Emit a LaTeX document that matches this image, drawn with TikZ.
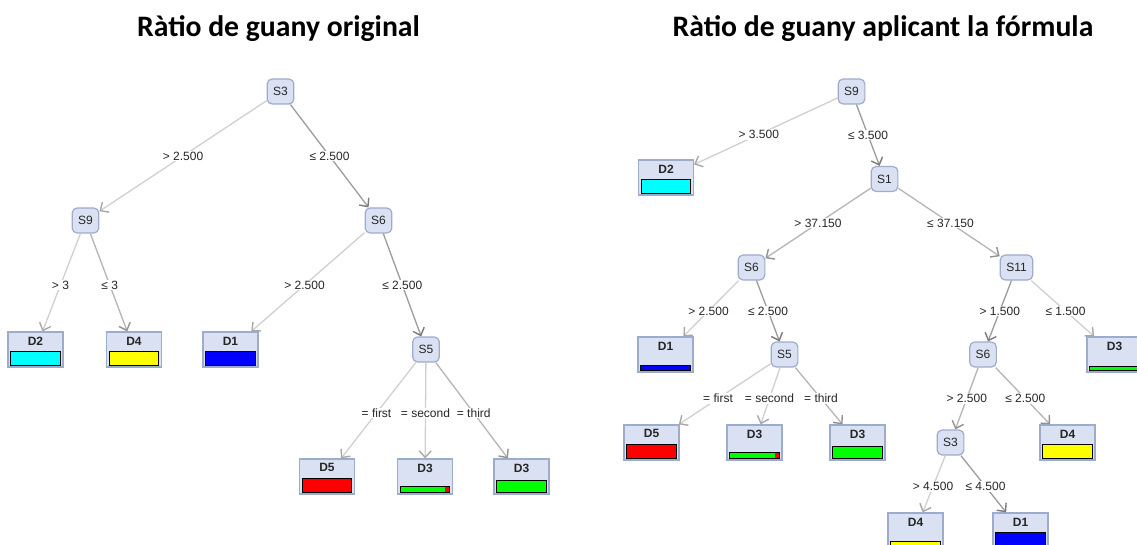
\documentclass[tikz,border=0pt]{standalone}
\usepackage{fontspec}
\setmainfont{Liberation Sans}
\newfontfamily\titlefont{Carlito}
\usetikzlibrary{arrows.meta,calc}

\definecolor{nodefill}{HTML}{DAE1F2}
\definecolor{nodedraw}{HTML}{9EACCC}
\definecolor{edgeL}{HTML}{D0D0D0}
\definecolor{edgeM}{HTML}{B5B5B5}
\definecolor{edgeD}{HTML}{9C9C9C}
\definecolor{tipL}{HTML}{A8A8A8}
\definecolor{tipM}{HTML}{929292}
\definecolor{tipD}{HTML}{7A7A7A}
\definecolor{txt}{HTML}{262626}
\definecolor{barcyan}{HTML}{00FFFF}
\definecolor{baryellow}{HTML}{FFFF00}
\definecolor{barblue}{HTML}{0000FF}
\definecolor{barred}{HTML}{FF0000}
\definecolor{bargreen}{HTML}{00FF00}

\tikzset{
  split/.style={draw=nodedraw, fill=nodefill, rounded corners=5pt, line width=1.2pt,
    minimum height=25pt, minimum width=26pt, inner xsep=6pt, inner ysep=2pt,
    font=\fontsize{12}{13}\selectfont, text=txt},
  leafbox/.style={draw=nodedraw, fill=nodefill, line width=1.2pt,
    minimum width=55pt, minimum height=35pt, inner sep=0pt},
  leaflabel/.style={font=\bfseries\fontsize{12}{13}\selectfont, text=txt, inner sep=0pt},
  elabel/.style={fill=white, inner xsep=1.5pt, inner ysep=1pt,
    font=\fontsize{12}{13}\selectfont, text=txt},
  barline/.style={draw=black, line width=0.9pt},
  light/.style={draw=edgeL, line width=1.3pt, -{Straight Barb[length=6.5pt,width=12pt,line width=1.4pt,color=tipL]}},
  medium/.style={draw=edgeM, line width=1.3pt, -{Straight Barb[length=6.5pt,width=12pt,line width=1.4pt,color=tipM]}},
  dark/.style={draw=edgeD, line width=1.3pt, -{Straight Barb[length=6.5pt,width=12pt,line width=1.4pt,color=tipD]}},
  title/.style={font=\titlefont\bfseries\fontsize{29.7}{31}\selectfont, anchor=base, inner sep=0pt}
}

% leaf: name, position, class label, bar colour, bar height
\newcommand\leafnode[5]{%
  \node[leafbox] (#1) at (#2) {};
  \node[leaflabel] at ([yshift=-9.5pt]#1.north) {#3};
  \filldraw[barline, fill=#4] ([xshift=3.5pt,yshift=2pt]#1.south west)
    rectangle ([xshift=-3.5pt,yshift=2pt+#5]#1.south east);
}
% leaf whose bar is mostly green with a small red share at the right end
\newcommand\mixedleaf[4]{%
  \node[leafbox] (#1) at (#2) {};
  \node[leaflabel] at ([yshift=-9.5pt]#1.north) {#3};
  \fill[bargreen] ([xshift=3.5pt,yshift=2pt]#1.south west)
    rectangle ([xshift=-3.5pt,yshift=2pt+#4]#1.south east);
  \fill[barred] ([xshift=-8pt,yshift=2pt]#1.south east)
    rectangle ([xshift=-3.5pt,yshift=2pt+#4]#1.south east);
  \draw[barline] ([xshift=3.5pt,yshift=2pt]#1.south west)
    rectangle ([xshift=-3.5pt,yshift=2pt+#4]#1.south east);
}
% branch: shade, parent, child, test
\newcommand\branch[4]{%
  \draw[#1] (#2) -- (#3);
  \node[elabel] at ($(#2)!.5!(#3)$) {#4};
}

\begin{document}
\begin{tikzpicture}[x=1pt, y=-1pt]
\useasboundingbox (0,0) rectangle (1137,545);
\fill[white] (0,0) rectangle (1137,545);
\clip (0,0) rectangle (1137,545);

\node[title] (t1) at (278.5,37) {Ràtio de guany original};
\node[title] (t2) at (883,37) {Ràtio de guany aplicant la fórmula};

% ---- tree with the original gain ratio ----
\node[split] (a3) at (280.5,91.5) {S3};
\node[split] (a9) at (85.5,220.5) {S9};
\node[split] (a6) at (378.5,220.5) {S6};
\node[split] (a5) at (426,349.5) {S5};
\leafnode{aD2}{35.5,349.5}{D2}{barcyan}{14.5pt}
\leafnode{aD4}{134,349.5}{D4}{baryellow}{14.5pt}
\leafnode{aD1}{230.5,349.5}{D1}{barblue}{14.5pt}
\leafnode{aD5}{327,476.5}{D5}{barred}{14.5pt}
\mixedleaf{aD3a}{425,476.5}{D3}{6.5pt}
\leafnode{aD3b}{521.5,476.5}{D3}{bargreen}{12pt}

\branch{light}{a3}{a9}{> 2.500}
\branch{dark}{a3}{a6}{≤ 2.500}
\branch{light}{a9}{aD2}{> 3}
\branch{medium}{a9}{aD4}{≤ 3}
\branch{light}{a6}{aD1}{> 2.500}
\branch{dark}{a6}{a5}{≤ 2.500}
\branch{light}{a5}{aD5}{= first}
\branch{light}{a5}{aD3a}{= second}
\branch{medium}{a5}{aD3b}{= third}

% ---- tree with the formula applied ----
\node[split] (b9) at (851.5,91.5) {S9};
\node[split] (b1) at (884.5,179) {S1};
\node[split] (b6) at (751.5,267.5) {S6};
\node[split] (b11) at (1016.5,267.5) {S11};
\node[split] (b5) at (784.5,354.5) {S5};
\node[split] (b6b) at (983,354.5) {S6};
\node[split] (b3) at (950.5,442.5) {S3};
\leafnode{bD2}{666,177.5}{D2}{barcyan}{14.5pt}
\leafnode{bD1}{665.5,354.5}{D1}{barblue}{5pt}
\leafnode{bD3c}{1114.5,354.5}{D3}{bargreen}{4.5pt}
\leafnode{bD5}{651.5,442.5}{D5}{barred}{14.5pt}
\mixedleaf{bD3a}{754.5,442.5}{D3}{6.5pt}
\leafnode{bD3b}{857.5,442.5}{D3}{bargreen}{12pt}
\leafnode{bD4}{1067.5,442.5}{D4}{baryellow}{14pt}
\leafnode{bD4b}{915.5,530.5}{D4}{baryellow}{5pt}
\leafnode{bD1b}{1020.5,530.5}{D1}{barblue}{14.5pt}

\branch{light}{b9}{bD2}{> 3.500}
\branch{dark}{b9}{b1}{≤ 3.500}
\branch{medium}{b1}{b6}{> 37.150}
\branch{medium}{b1}{b11}{≤ 37.150}
\branch{light}{b6}{bD1}{> 2.500}
\branch{dark}{b6}{b5}{≤ 2.500}
\branch{light}{b5}{bD5}{= first}
\branch{light}{b5}{bD3a}{= second}
\branch{medium}{b5}{bD3b}{= third}
\branch{dark}{b11}{b6b}{> 1.500}
\branch{light}{b11}{bD3c}{≤ 1.500}
\branch{medium}{b6b}{b3}{> 2.500}
\branch{medium}{b6b}{bD4}{≤ 2.500}
\branch{light}{b3}{bD4b}{> 4.500}
\branch{dark}{b3}{bD1b}{≤ 4.500}
\end{tikzpicture}
\end{document}
